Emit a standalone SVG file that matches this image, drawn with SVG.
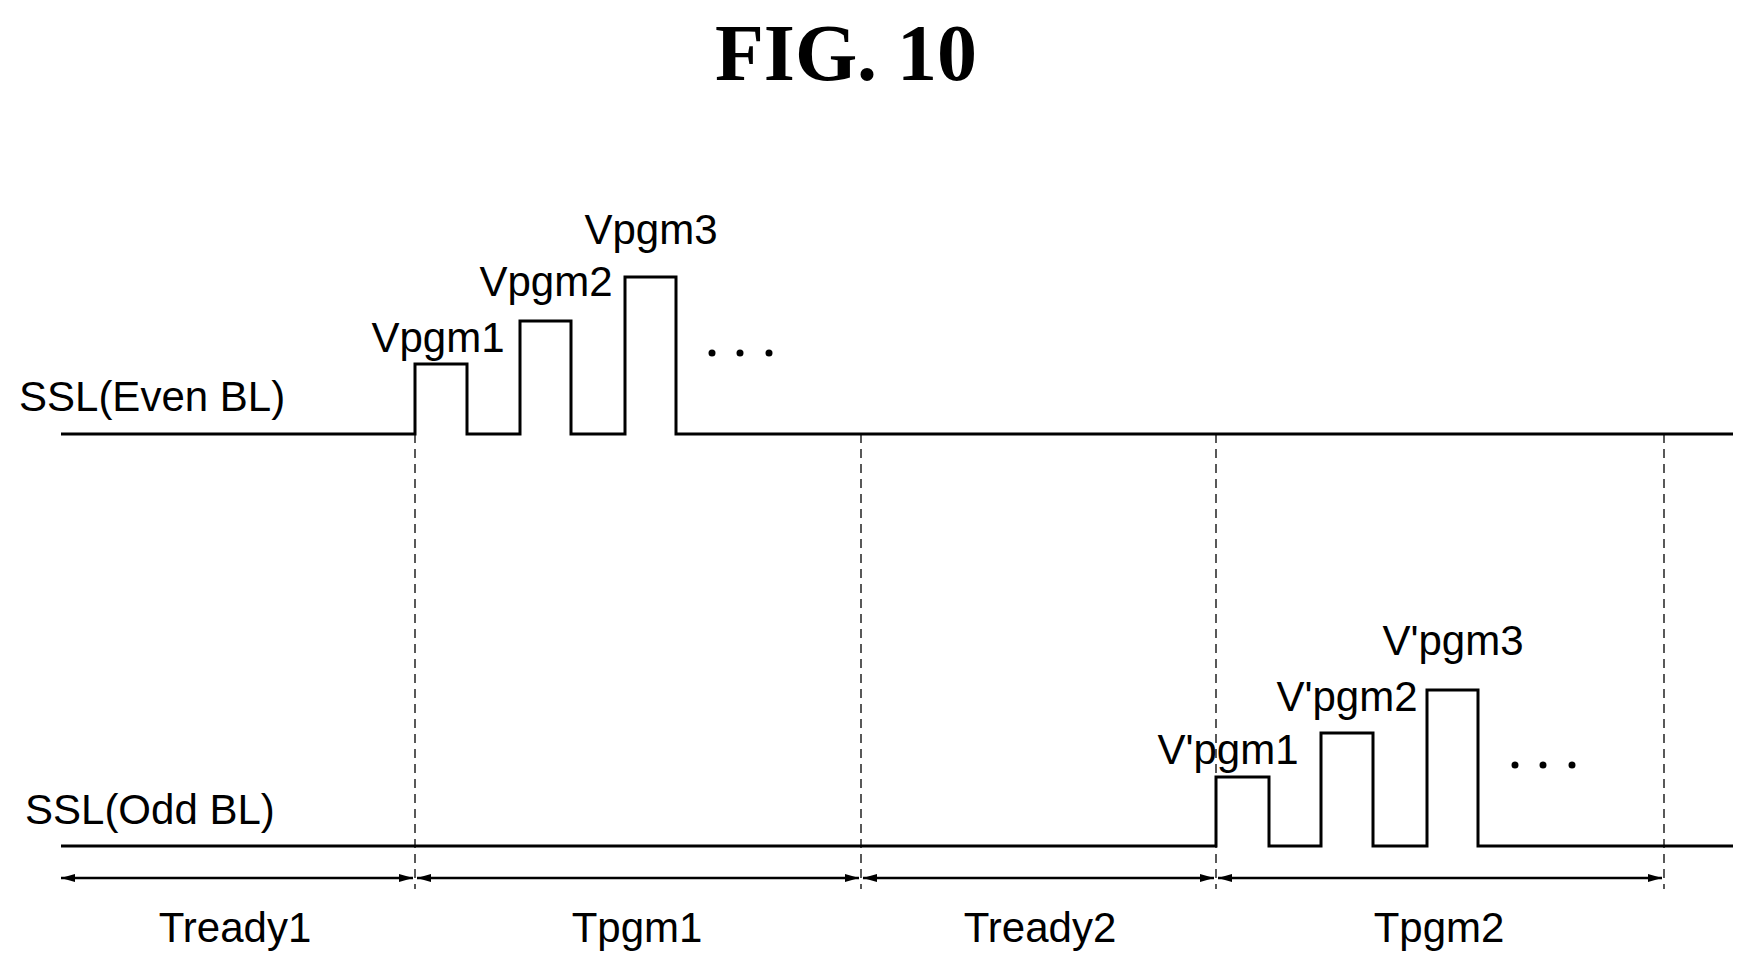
<svg xmlns="http://www.w3.org/2000/svg" width="1745" height="966" viewBox="0 0 1745 966">
<defs>
<marker id="ah" viewBox="0 0 14 10" refX="14" refY="5" markerWidth="14" markerHeight="10" markerUnits="userSpaceOnUse" orient="auto-start-reverse"><path d="M0,1 L14,5 L0,9 Z" fill="#000"/></marker>
</defs>
<style>
.t{font-family:"Liberation Sans",Arial,sans-serif;font-size:42px;fill:#000}
.w{fill:none;stroke:#000;stroke-width:3}
.d{stroke:#000;stroke-width:1.3;stroke-dasharray:9,6}
.a{stroke:#000;stroke-width:2.5;marker-start:url(#ah);marker-end:url(#ah)}
</style>
<rect width="1745" height="966" fill="#fff"/>
<text x="846" y="80" text-anchor="middle" font-family="Liberation Serif,serif" font-weight="bold" font-size="80">FIG. 10</text>
<g id="connectors">
<line class="d" x1="415" y1="434" x2="415" y2="889"/>
<line class="d" x1="861" y1="434" x2="861" y2="889"/>
<line class="d" x1="1216" y1="434" x2="1216" y2="889"/>
<line class="d" x1="1664" y1="434" x2="1664" y2="889"/>
<line class="a" x1="61" y1="878" x2="413" y2="878"/>
<line class="a" x1="417" y1="878" x2="859" y2="878"/>
<line class="a" x1="863" y1="878" x2="1214" y2="878"/>
<line class="a" x1="1218" y1="878" x2="1662" y2="878"/>
</g>
<g id="even">
<path class="w" d="M61,434 H415 V364 H467 V434 H520 V321 H571 V434 H625 V277 H676 V434 H1733"/>
<text class="t" x="19" y="411">SSL(Even BL)</text>
<text class="t" x="438" y="352" text-anchor="middle">Vpgm1</text>
<text class="t" x="546" y="296" text-anchor="middle">Vpgm2</text>
<text class="t" x="651" y="244" text-anchor="middle">Vpgm3</text>
<circle cx="712" cy="353" r="3.5"/><circle cx="740" cy="353" r="3.5"/><circle cx="769" cy="353" r="3.5"/>
</g>
<g id="odd">
<path class="w" d="M61,846 H1216 V777 H1269 V846 H1321 V733 H1373 V846 H1427 V690 H1478 V846 H1733"/>
<text class="t" x="25" y="824">SSL(Odd BL)</text>
<text class="t" x="1228" y="764" text-anchor="middle">V'pgm1</text>
<text class="t" x="1347" y="711" text-anchor="middle">V'pgm2</text>
<text class="t" x="1453" y="655" text-anchor="middle">V'pgm3</text>
<circle cx="1515" cy="765" r="3.5"/><circle cx="1543" cy="765" r="3.5"/><circle cx="1572" cy="765" r="3.5"/>
</g>
<g id="periods">
<text class="t" x="235" y="942" text-anchor="middle">Tready1</text>
<text class="t" x="637" y="942" text-anchor="middle">Tpgm1</text>
<text class="t" x="1040" y="942" text-anchor="middle">Tready2</text>
<text class="t" x="1439" y="942" text-anchor="middle">Tpgm2</text>
</g>
</svg>
